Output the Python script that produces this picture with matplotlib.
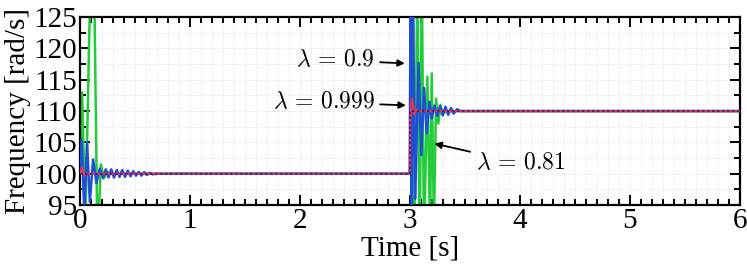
import numpy as np
import matplotlib.pyplot as plt
from matplotlib.ticker import MultipleLocator

plt.rcParams['font.family'] = ['Liberation Serif', 'DejaVu Serif']
plt.rcParams['mathtext.fontset'] = 'cm'

# reference speed (step at t = 3 s)
ref_t = [0.0, 3.0, 3.0, 6.0]
ref_w = [100.0, 100.0, 110.0, 110.0]

# lambda = 0.81 (green)
green_t = [0.0, 0.02, 0.05, 0.08, 0.1, 0.115, 0.13, 0.16, 0.19, 0.22, 0.25, 0.3, 2.999,
           3.0, 3.02, 3.045, 3.07, 3.09, 3.11, 3.13, 3.16, 3.185, 3.2, 3.22, 3.24, 3.26,
           3.28, 3.3, 3.33, 6.0]
green_w = [100.0, 113.0, 92.0, 118.0, 135.0, 140.0, 130.0, 88.0, 101.5, 99.3, 100.3, 100.0, 100.0,
           100.0, 104.0, 92.0, 132.0, 88.0, 132.0, 88.0, 115.5, 91.0, 116.0, 92.0, 112.0, 108.0,
           111.0, 109.5, 110.0, 110.0]

# lambda = 0.9 (blue)
blue_t = [0.0, 0.015, 0.04, 0.065, 0.09, 0.12, 0.15, 0.18, 0.21, 0.235, 0.26, 0.285, 0.31,
          0.335, 0.36, 0.385, 0.41, 0.435, 0.46, 0.485, 0.51, 0.535, 0.56, 0.585, 0.61,
          0.635, 0.66, 0.7, 2.999,
          3.0, 3.008, 3.018, 3.03, 3.05, 3.08, 3.105, 3.13, 3.155, 3.18, 3.2, 3.225, 3.25,
          3.275, 3.3, 3.325, 3.35, 3.375, 3.4, 3.43, 3.46, 6.0]
blue_w = [100.0, 105.5, 94.0, 105.0, 95.5, 102.3, 98.5, 100.8, 99.3, 100.7, 99.4, 100.7, 99.4,
          100.6, 99.5, 100.6, 99.5, 100.5, 99.6, 100.4, 99.7, 100.3, 99.7, 100.25, 99.8,
          100.15, 99.9, 100.0, 100.0,
          100.0, 132.0, 90.0, 128.0, 96.0, 117.7, 103.0, 113.7, 106.5, 111.5, 108.8, 110.9, 109.2,
          110.8, 109.3, 110.7, 109.4, 110.5, 109.6, 110.3, 110.0, 110.0]

# lambda = 0.999 (red)
red_t = [0.0, 0.02, 0.04, 0.06, 2.999, 3.0, 3.004, 3.02, 3.04, 3.06, 3.08, 6.0]
red_w = [100.0, 101.0, 99.7, 100.0, 100.0, 100.0, 108.0, 112.0, 109.5, 110.3, 110.0, 110.0]

fig = plt.figure(figsize=(7.47, 2.67), dpi=100)
ax = fig.add_axes([0.107, 0.232, 0.883, 0.704])

ax.plot(green_t, green_w, color='#22cc3a', lw=1.8, zorder=2)
ax.plot(blue_t, blue_w, color='#1f4fd6', lw=1.8, zorder=3)
ax.plot(red_t, red_w, color='#e8305a', lw=1.6, zorder=4)
ax.plot(ref_t, ref_w, color='#2a2a70', lw=1.2, ls=(0, (1.5, 1.5)), zorder=5)

ax.set_xlim(0, 6)
ax.set_ylim(95, 125)
ax.xaxis.set_major_locator(MultipleLocator(1))
ax.xaxis.set_minor_locator(MultipleLocator(0.1))
ax.yaxis.set_major_locator(MultipleLocator(5))
ax.yaxis.set_minor_locator(MultipleLocator(2.5))
ax.tick_params(which='both', direction='in', top=True, right=True, width=1.4, labelsize=21)
ax.tick_params(which='major', length=7, pad=2)
ax.tick_params(which='minor', length=4)
ax.grid(True, which='both', color='#dddddd', lw=0.6, ls=':')
for s in ax.spines.values():
    s.set_linewidth(1.6)

ax.set_xlabel('Time [s]', fontsize=21, labelpad=1)
ax.set_ylabel('Frequency [rad/s]', fontsize=21, labelpad=2)

arrow = dict(arrowstyle='-|>', color='black', lw=1.3, mutation_scale=10)
ax.annotate(r'$\lambda\,=\,0.9$', xy=(2.98, 117.6), xytext=(2.68, 118.1),
            fontsize=17, ha='right', va='center', arrowprops=arrow)
ax.annotate(r'$\lambda\,=\,0.999$', xy=(2.99, 110.9), xytext=(2.68, 111.4),
            fontsize=17, ha='right', va='center', arrowprops=arrow)
ax.annotate(r'$\lambda\,=\,0.81$', xy=(3.2, 104.9), xytext=(3.6, 101.7),
            fontsize=17, ha='left', va='center', arrowprops=arrow)

plt.savefig('out.png', dpi=100)
